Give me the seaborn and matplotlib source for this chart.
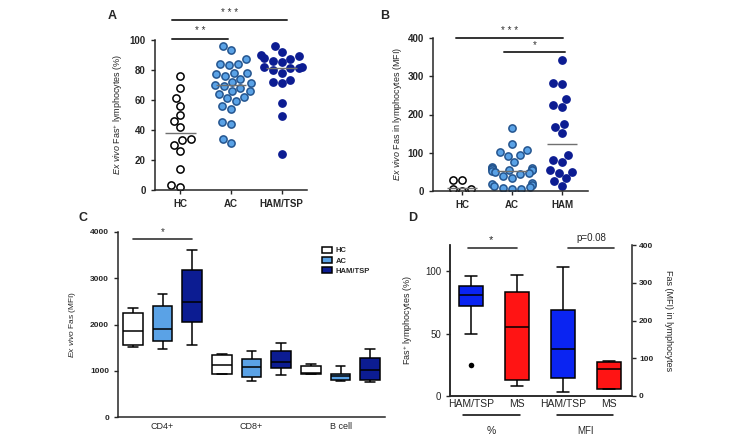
import numpy as np
import pandas as pd
import matplotlib
matplotlib.use('Agg')
import matplotlib.pyplot as plt
import matplotlib.transforms as mtransforms
import seaborn as sns

# Panel A: ex vivo Fas+ lymphocytes (%)
a_groups = ['HC', 'AC', 'HAM/TSP']
a_hc = [76, 68, 61, 56, 50, 46, 42, 34, 33, 30, 26, 14, 3, 2]
a_ac = [96, 93, 87, 84, 83, 84, 78, 77, 78, 76, 74, 72, 71, 70, 69, 68,
        66, 66, 64, 62, 61, 59, 56, 54, 45, 44, 34, 31]
a_ham = [96, 92, 90, 89, 88, 86, 85, 87, 82, 82, 81, 81, 80, 78, 73, 72,
         71, 58, 49, 24]
a_means = [38, 70, 81]

# Panel B: ex vivo Fas in lymphocytes (MFI)
b_groups = ['HC', 'AC', 'HAM']
b_hc = [30, 30, 5, 0, 5]
b_ac = [164, 122, 108, 102, 93, 92, 75, 62, 60, 60, 58, 56, 55, 54, 52, 50,
        48, 45, 38, 33, 20, 18, 16, 14, 10, 8, 6, 5]
b_ham = [343, 283, 280, 240, 226, 220, 175, 168, 152, 93, 80, 75, 55, 50,
         48, 33, 25, 12]
b_means = [7, 52, 123]

# Panel C: five-number summaries (min, q1, median, q3, max) per cell type
c_cells = ['CD4+', 'CD8+', 'B cell']
c_groups = ['HC', 'AC', 'HAM/TSP']
c_hc = [[1510, 1560, 1850, 2255, 2350], [940, 940, 1130, 1350, 1370],
        [920, 920, 950, 1100, 1150]]
c_ac = [[1460, 1650, 1910, 2410, 2650], [770, 870, 1090, 1260, 1430],
        [780, 800, 880, 940, 1110]]
c_ham = [[1550, 2060, 2490, 3180, 3620], [900, 1060, 1190, 1430, 1590],
         [760, 790, 1010, 1270, 1470]]

# Panel D: HAM/TSP vs MS, % (left axis) and MFI (right axis)
d_labels = ['HAM/TSP', 'MS', 'HAM/TSP', 'MS']
d_pct_ham = [49.5, 72, 81, 88, 96]
d_pct_ms = [8, 13, 55, 83, 97]
d_pct_outlier = [24.5]
d_mfi_ham = [11, 49, 124, 229, 341]
d_mfi_ms = [18, 18, 71, 90, 93]

W, H = 752, 437
sns.set_style('ticks')
plt.rcParams['font.family'] = ['Liberation Sans', 'DejaVu Sans']
plt.rcParams['mathtext.fontset'] = 'custom'
plt.rcParams['mathtext.rm'] = 'Liberation Sans'
plt.rcParams['mathtext.it'] = 'Liberation Sans:italic'
plt.rcParams['axes.linewidth'] = 1.1
plt.rcParams['xtick.major.width'] = 1.0
plt.rcParams['ytick.major.width'] = 1.0
plt.rcParams['xtick.major.size'] = 3
plt.rcParams['ytick.major.size'] = 3

fig = plt.figure(figsize=(W / 100, H / 100), dpi=100)


def px_axes(x0, y0, x1, y1):
    # pixel box (left, top, right, bottom) -> figure axes
    return fig.add_axes([x0 / W, 1 - y1 / H, (x1 - x0) / W, (y1 - y0) / H])


light_blue = '#5aa2e6'
navy = '#0c1c92'
bar_col = '#333333'

# ---------------- A ----------------
axA = px_axes(155, 40, 307, 190)
for grp, vals, fc, ec in zip(a_groups, [a_hc, a_ac, a_ham],
                             ['white', light_blue, navy],
                             ['black', '#24558f', navy]):
    sns.swarmplot(x=[grp] * len(vals), y=vals, order=a_groups, ax=axA,
                  color=fc, edgecolor=ec, linewidth=1.1, size=5.2, zorder=2)
axA.hlines(a_means, np.arange(3) - 0.3, np.arange(3) + 0.3,
           colors='#707070', lw=1.0, zorder=3)
axA.set_xlim(-0.5, 2.5)
axA.set_ylim(0, 100)
axA.set_yticks([0, 20, 40, 60, 80, 100])
axA.set_xlabel('')
axA.set_ylabel(r'$\it{Ex\ vivo}$ Fas$^{+}$ lymphocytes (%)', fontsize=6.5)
axA.yaxis.set_label_coords(-0.2, 0.5)
axA.tick_params(labelsize=7)
for lab in axA.get_xticklabels() + axA.get_yticklabels():
    lab.set_fontweight('bold')
sns.despine(ax=axA)
axA.plot([-0.16, 0.94], [100.7, 100.7], color=bar_col, lw=1.4, clip_on=False)
axA.text(0.39, 102.5, '* *', ha='center', va='bottom', fontsize=7, color=bar_col)
axA.plot([-0.16, 2.1], [113, 113], color=bar_col, lw=1.4, clip_on=False)
axA.text(0.97, 114.5, '* * *', ha='center', va='bottom', fontsize=7, color=bar_col)

# ---------------- B ----------------
axB = px_axes(433, 38, 588, 191)
for grp, vals, fc, ec in zip(b_groups, [b_hc, b_ac, b_ham],
                             ['white', light_blue, navy],
                             ['black', '#24558f', navy]):
    sns.swarmplot(x=[grp] * len(vals), y=vals, order=b_groups, ax=axB,
                  color=fc, edgecolor=ec, linewidth=1.1, size=5.2, zorder=2)
axB.hlines(b_means, np.arange(3) - 0.3, np.arange(3) + 0.3,
           colors='#707070', lw=1.0, zorder=3)
axB.set_xlim(-0.58, 2.52)
axB.set_ylim(0, 400)
axB.set_yticks([0, 100, 200, 300, 400])
axB.set_xlabel('')
axB.set_ylabel(r'$\it{Ex\ vivo}$ Fas in lymphocytes (MFI)', fontsize=6.5)
axB.yaxis.set_label_coords(-0.19, 0.5)
axB.tick_params(labelsize=7)
for lab in axB.get_xticklabels() + axB.get_yticklabels():
    lab.set_fontweight('bold')
sns.despine(ax=axB)
axB.plot([-0.12, 2.02], [400, 400], color=bar_col, lw=1.4, clip_on=False)
axB.text(0.95, 404, '* * *', ha='center', va='bottom', fontsize=7, color=bar_col)
axB.plot([0.84, 2.06], [363, 363], color=bar_col, lw=1.4, clip_on=False)
axB.text(1.45, 368, '*', ha='center', va='bottom', fontsize=7, color=bar_col)

# ---------------- C ----------------
rows = []
for grp, summaries in zip(c_groups, [c_hc, c_ac, c_ham]):
    for cell, five in zip(c_cells, summaries):
        for v in five:
            rows.append({'cell': cell, 'group': grp, 'mfi': v})
dfC = pd.DataFrame(rows)

axC = px_axes(118, 232, 385, 417)
sns.boxplot(data=dfC, x='cell', y='mfi', hue='group', order=c_cells,
            hue_order=c_groups, palette=['white', light_blue, navy],
            saturation=1, width=1.0, gap=0.33, whis=(0, 100),
            linecolor='black', linewidth=1.1, ax=axC)
axC.set_xlim(-0.5, 2.5)
axC.set_ylim(0, 4000)
axC.set_yticks([0, 1000, 2000, 3000, 4000])
axC.set_xlabel('')
axC.set_ylabel(r'$\it{Ex\ vivo}$ Fas (MFI)', fontsize=6)
axC.yaxis.set_label_coords(-0.15, 0.5)
axC.tick_params(axis='x', labelsize=6.5, length=0)
axC.tick_params(axis='y', labelsize=6)
for lab in axC.get_yticklabels():
    lab.set_fontweight('bold')
sns.despine(ax=axC)
axC.legend(loc='upper left', bbox_to_anchor=(0.75, 0.94), frameon=False,
           handlelength=1.3, handleheight=0.8,
           labelspacing=0.35, handletextpad=0.5, borderpad=0,
           prop={'weight': 'bold', 'size': 5.5})
axC.plot([-0.33, 0.33], [3850, 3850], color=bar_col, lw=1.2, clip_on=False)
axC.text(0.0, 3880, '*', ha='center', va='bottom', fontsize=7, color=bar_col)

# ---------------- D ----------------
d_order = ['HAM/TSP %', 'MS %', 'HAM/TSP MFI', 'MS MFI']
d_pal = {'HAM/TSP': '#0a24f2', 'MS': '#ff1414'}
dfD_pct = pd.DataFrame({
    'cond': ['HAM/TSP %'] * len(d_pct_ham) + ['MS %'] * len(d_pct_ms),
    'disease': ['HAM/TSP'] * len(d_pct_ham) + ['MS'] * len(d_pct_ms),
    'value': d_pct_ham + d_pct_ms})
dfD_mfi = pd.DataFrame({
    'cond': ['HAM/TSP MFI'] * len(d_mfi_ham) + ['MS MFI'] * len(d_mfi_ms),
    'disease': ['HAM/TSP'] * len(d_mfi_ham) + ['MS'] * len(d_mfi_ms),
    'value': d_mfi_ham + d_mfi_ms})

axD = px_axes(450, 245, 632, 396)
sns.boxplot(data=dfD_pct, x='cond', y='value', hue='disease', order=d_order,
            palette=d_pal, saturation=1, dodge=False, width=0.52,
            whis=(0, 100), linecolor='black', linewidth=1.1, legend=False,
            ax=axD)
sns.stripplot(x=['HAM/TSP %'] * len(d_pct_outlier), y=d_pct_outlier,
              order=d_order, jitter=False, color='black', size=4, ax=axD)
axD2 = axD.twinx()
sns.boxplot(data=dfD_mfi, x='cond', y='value', hue='disease', order=d_order,
            palette=d_pal, saturation=1, dodge=False, width=0.52,
            whis=(0, 100), linecolor='black', linewidth=1.1, legend=False,
            ax=axD2)
for ax in (axD, axD2):
    ax.set_xlim(-0.45, 3.5)
    ax.set_xlabel('')
axD.set_ylim(0, 121)
axD.set_yticks([0, 50, 100])
axD2.set_ylim(0, 400)
axD2.set_yticks([0, 100, 200, 300, 400])
axD.set_xticks(range(4))
axD.set_xticklabels(d_labels)
axD.tick_params(axis='x', labelsize=7.5, length=0, pad=2)
axD.tick_params(axis='y', labelsize=7)
axD2.tick_params(axis='y', labelsize=6, pad=2)
for lab in axD2.get_yticklabels():
    lab.set_fontweight('bold')
axD.set_ylabel('Fas$^{+}$ lymphocytes (%)', fontsize=6.5)
axD.yaxis.set_label_coords(-0.19, 0.5)
axD2.set_ylabel('Fas (MFI) in lymphocytes', fontsize=6.5, rotation=270,
                va='center', ha='center')
axD2.yaxis.set_label_coords(1.2, 0.5)
axD.spines['top'].set_visible(False)
axD2.spines['top'].set_visible(False)
axD.spines['right'].set_visible(False)

trD = mtransforms.blended_transform_factory(axD.transData, axD.transAxes)
axD.plot([-0.17, 1.06], [-0.125, -0.125], color='black', lw=1.1,
         transform=trD, clip_on=False)
axD.text(0.45, -0.2, '%', ha='center', va='top', fontsize=7.5, transform=trD)
axD.plot([1.88, 3.09], [-0.125, -0.125], color='black', lw=1.1,
         transform=trD, clip_on=False)
axD.text(2.48, -0.2, 'MFI', ha='center', va='top', fontsize=7, transform=trD)
axD.plot([-0.07, 1.0], [0.98, 0.98], color=bar_col, lw=1.2,
         transform=trD, clip_on=False)
axD.text(0.45, 1.0, '*', ha='center', va='bottom', fontsize=8, transform=trD)
axD.plot([2.12, 3.12], [0.98, 0.98], color=bar_col, lw=1.2,
         transform=trD, clip_on=False)
axD.text(2.62, 1.01, 'p=0.08', ha='center', va='bottom', fontsize=7,
         transform=trD)

# panel letters
for letter, (px, py) in zip('ABCD', [(112, 16), (385, 16), (83, 218), (413, 218)]):
    fig.text(px / W, 1 - py / H, letter, ha='center', va='center',
             fontsize=9, fontweight='bold')

fig.savefig('out.png', dpi=100)
